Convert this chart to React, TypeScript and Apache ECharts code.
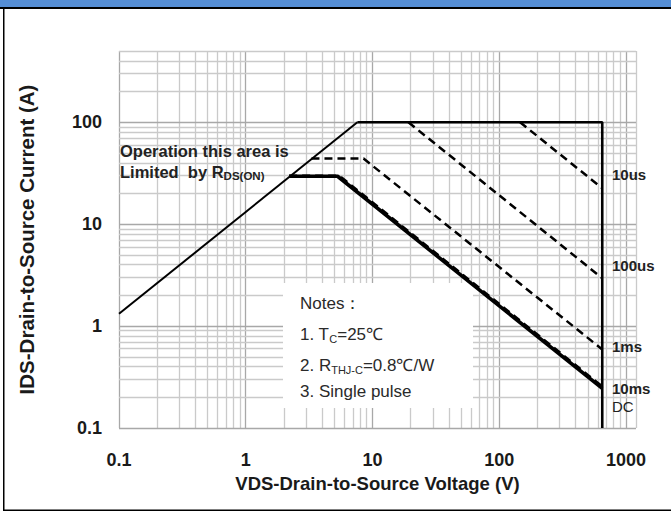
import React, { useEffect, useRef } from "react";
import * as echarts from "echarts";

// Axis structure
const xTickLabels = ["0.1", "1", "10", "100", "1000"];
const yTickLabels = ["0.1", "1", "10", "100"];
const xDecades = [0.1, 1, 10, 100, 1000];
const yDecades = [0.1, 1, 10, 100];
const gridSteps = [1, 2, 3, 4, 5, 6, 7, 8, 9];
const xMax = 1200;
const yMax = 500;

// Curves [VDS (V), IDS (A)]
const rdsLimit = [[0.1, 1.32], [7.6, 100]];
const currentVoltageLimit = [[7.6, 100], [650, 100], [650, 0.1]];
const pulse10us = [[146, 100], [650, 22.5]];
const pulse100us = [[19.2, 100], [650, 2.95]];
const pulse1ms = [[3.3, 44], [8.5, 44], [650, 0.59]];
const pulse10ms = [[2.2, 29.6], [5.45, 29.6], [650, 0.252]];
const dcLine = [[2.2, 29.5], [5.3, 29.5], [650, 0.245]];

const FONT = "'Liberation Sans', Arial, sans-serif";

export default function App() {
  const ref = useRef<HTMLDivElement>(null);
  useEffect(() => {
    if (!ref.current) return;
    const chart = echarts.init(ref.current, undefined, { renderer: "svg" });

    const xLines: any[] = [];
    xDecades.forEach((d) =>
      gridSteps.forEach((k) => {
        const v = d * k;
        if (v <= xMax + 1e-9) xLines.push({ xAxis: v, major: k === 1 });
      })
    );
    xLines.push({ xAxis: xMax, major: false });
    const yLines: any[] = [];
    yDecades.forEach((d) =>
      gridSteps.forEach((k) => {
        const v = d * k;
        if (v <= yMax + 1e-9) yLines.push({ yAxis: v, major: k === 1 });
      })
    );

    const gridLineData = [...xLines, ...yLines].map((l) => {
      const o: any = { lineStyle: { color: l.major ? "#a8a8a8" : "#cacaca", width: 1.3, type: "solid" } };
      if (l.xAxis !== undefined) o.xAxis = l.xAxis;
      else o.yAxis = l.yAxis;
      return o;
    });

    const isPow = (v: number) => Math.abs(Math.log10(v) - Math.round(Math.log10(v))) < 1e-6;

    const lineSeries = (name: string, data: number[][], width: number, dashed: boolean, z = 3) => ({
      name,
      type: "line",
      data,
      symbol: "none",
      z,
      lineStyle: { color: "#000", width, type: dashed ? [8, 5] : "solid", cap: "butt" },
      silent: true,
    });

    const texts = (arr: any[]) =>
      arr.map((t) => ({
        type: "text",
        z: 10,
        left: t.x,
        top: t.y,
        style: {
          text: t.text,
          fontFamily: FONT,
          fontSize: t.size || 15,
          fontWeight: t.bold === false ? "normal" : "bold",
          fill: t.fill || "#222",
          rich: t.rich,
        },
      }));

    chart.setOption({
      animation: false,
      grid: { left: 119, top: 51, width: 517, height: 377, containLabel: false },
      xAxis: {
        type: "log",
        logBase: 10,
        min: 0.1,
        max: xMax,
        axisLine: { show: false },
        axisTick: { show: false },
        splitLine: { show: false },
        axisLabel: {
          margin: 23,
          fontFamily: FONT,
          fontSize: 18,
          fontWeight: "bold",
          color: "#1a1a1a",
          formatter: (v: number) => (isPow(v) ? xTickLabels[Math.round(Math.log10(v)) + 1] ?? "" : ""),
        },
        name: "VDS-Drain-to-Source Voltage (V)",
        nameLocation: "middle",
        nameGap: 46,
        nameTextStyle: { fontFamily: FONT, fontSize: 18.5, fontWeight: "bold", color: "#1a1a1a" },
      },
      yAxis: {
        type: "log",
        logBase: 10,
        min: 0.1,
        max: yMax,
        axisLine: { show: false },
        axisTick: { show: false },
        splitLine: { show: false },
        axisLabel: {
          margin: 17,
          fontFamily: FONT,
          fontSize: 18,
          fontWeight: "bold",
          color: "#1a1a1a",
          formatter: (v: number) => (isPow(v) ? yTickLabels[Math.round(Math.log10(v)) + 1] ?? "" : ""),
        },
        name: "IDS-Drain-to-Source Current (A)",
        nameLocation: "middle",
        nameGap: 82,
        nameRotate: 90,
        nameTextStyle: { fontFamily: FONT, fontSize: 20.5, fontWeight: "bold", color: "#1a1a1a" },
      },
      series: [
        {
          name: "grid",
          type: "line",
          data: [],
          z: 1,
          clip: false,
          silent: true,
          markLine: {
            z: 1,
            silent: true,
            symbol: "none",
            label: { show: false },
            animation: false,
            data: gridLineData,
          },
        },
        lineSeries("RDS(ON) limit", rdsLimit, 2, false),
        lineSeries("Limit", currentVoltageLimit, 2.6, false),
        lineSeries("10us", pulse10us, 2.5, true),
        lineSeries("100us", pulse100us, 2.5, true),
        lineSeries("1ms", pulse1ms, 2.5, true),
        lineSeries("DC", dcLine, 3.6, false, 3),
        lineSeries("10ms", pulse10ms, 3.4, true, 4),
      ],
      graphic: [
        { type: "rect", z: 0, shape: { x: 0, y: 0, width: 671, height: 7 }, style: { fill: "#558ed5" } },
        { type: "rect", z: 0, shape: { x: 0, y: 7, width: 671, height: 2 }, style: { fill: "#000" } },
        { type: "rect", z: 0, shape: { x: 3, y: 7, width: 1.5, height: 504 }, style: { fill: "#000" } },
        { type: "rect", z: 0, shape: { x: 3, y: 509.5, width: 668, height: 1.5 }, style: { fill: "#000" } },
        { type: "rect", z: 2, shape: { x: 283, y: 283, width: 190, height: 125 }, style: { fill: "#fff" } },
        ...texts([
          { x: 120, y: 142, text: "Operation this area is", size: 16.5 },
          {
            x: 120,
            y: 163,
            text: "{n|Limited  by R}{s|DS(ON)}",
            size: 16.5,
            rich: {
              n: { fontFamily: FONT, fontSize: 16.5, fontWeight: "bold", fill: "#222" },
              s: { fontFamily: FONT, fontSize: 11.5, fontWeight: "bold", fill: "#222", padding: [8, 0, 0, 0] },
            },
          },
          { x: 612, y: 167, text: "10us", size: 15 },
          { x: 612, y: 258, text: "100us", size: 15 },
          { x: 612, y: 339, text: "1ms", size: 15 },
          { x: 612, y: 381, text: "10ms", size: 15 },
          { x: 612, y: 399, text: "DC", size: 15, bold: false },
          { x: 300, y: 295, text: "Notes：", size: 17, bold: false, fill: "#2a2a2a" },
          {
            x: 300,
            y: 326,
            text: "{n|1. T}{s|C}{n|=25℃}",
            size: 17,
            bold: false,
            rich: {
              n: { fontFamily: FONT, fontSize: 17, fill: "#2a2a2a" },
              s: { fontFamily: FONT, fontSize: 11, fill: "#2a2a2a", padding: [8, 0, 0, 0] },
            },
          },
          {
            x: 300,
            y: 357,
            text: "{n|2. R}{s|THJ-C}{n|=0.8℃/W}",
            size: 17,
            bold: false,
            rich: {
              n: { fontFamily: FONT, fontSize: 17, fill: "#2a2a2a" },
              s: { fontFamily: FONT, fontSize: 11, fill: "#2a2a2a", padding: [8, 0, 0, 0] },
            },
          },
          { x: 300, y: 383, text: "3. Single pulse", size: 17, bold: false, fill: "#2a2a2a" },
        ]),
      ],
    });
    return () => chart.dispose();
  }, []);
  return (
    <div
      ref={ref}
      style={{ position: "fixed", left: 0, top: 0, width: 671, height: 512, background: "#fff" }}
    />
  );
}
